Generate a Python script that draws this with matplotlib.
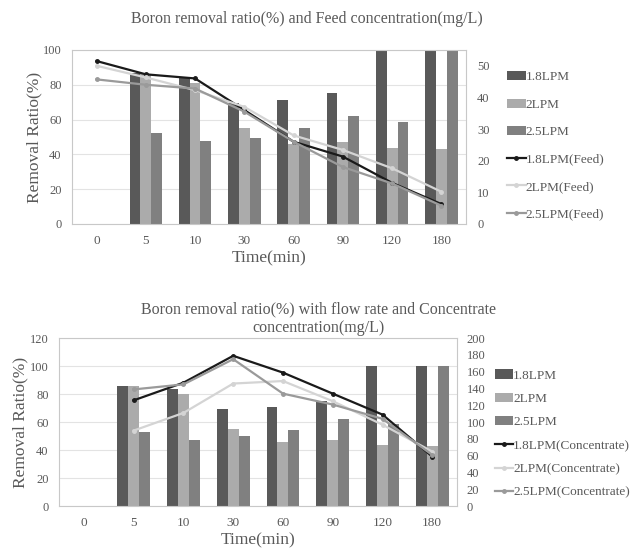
import numpy as np
import matplotlib
matplotlib.use("Agg")
import matplotlib.pyplot as plt

plt.rcParams["font.family"] = ["Liberation Serif", "DejaVu Serif"]

TIMES = ["0", "5", "10", "30", "60", "90", "120", "180"]

# removal ratio (%) - top chart
top_18 = [0, 86.5, 84, 69.5, 71, 75.5, 100, 100]
top_2 = [0, 86, 81, 55, 46, 47, 43.5, 43]
top_25 = [0, 52.5, 47.5, 49.5, 55, 62, 58.5, 100]

# feed concentration (mg/L)
feed_18 = [51.5, 47.3, 46, 36, 26, 21.3, 13, 6.3]
feed_2 = [50, 46.3, 42.3, 37, 28, 23.4, 17.6, 10.2]
feed_25 = [45.7, 44, 42.8, 35.5, 26, 18, 12.8, 5.8]

# removal ratio (%) - bottom chart
bot_18 = [0, 86, 83.5, 69.5, 71, 75, 100, 100]
bot_2 = [0, 86, 80, 55, 45.7, 47, 44, 43]
bot_25 = [0, 52.7, 47.6, 49.8, 54.6, 62.3, 58.7, 100]

# concentrate concentration (mg/L), no value at t=0
conc_18 = [126, 147, 179, 159, 134, 109, 59]
conc_2 = [90, 111, 146, 149, 125, 97, 65]
conc_25 = [139, 145, 175, 134, 121, 104, 61]

C_BAR = ["#595959", "#ababab", "#808080"]
C_LINE = ["#1a1a1a", "#d4d4d4", "#9a9a9a"]
TXT = "#595959"
GRID = "#e3e3e3"

fig = plt.figure(figsize=(6.31, 5.49), dpi=100)


def panel(rect, bars, lines, line_x, ylim_l, yt_l, ylim_r, yt_r, suffix,
          titles, leg_pos, leg_space, xlab_y, ylab_x, rpad):
    ax = fig.add_axes(rect)
    x = np.arange(len(TIMES))
    w = 0.22
    names = ["1.8LPM", "2LPM", "2.5LPM"]
    handles = []
    for i, (vals, c) in enumerate(zip(bars, C_BAR)):
        h = ax.bar(x + (i - 1) * w, vals, w, color=c, label=names[i], zorder=2)
        handles.append(h)
    ax.set_xlim(-0.5, len(TIMES) - 0.5)
    ax.set_ylim(*ylim_l)
    ax.set_yticks(yt_l)
    ax.set_xticks(x)
    ax.set_xticklabels(TIMES)
    ax.yaxis.grid(True, color=GRID, lw=0.8, zorder=0)
    ax.set_axisbelow(True)
    ax.tick_params(axis="x", length=0, labelsize=9.5, colors=TXT, pad=8)
    ax.tick_params(axis="y", length=0, labelsize=9, colors=TXT, pad=7.5)
    for s in ax.spines.values():
        s.set_color("#c8c8c8")
        s.set_linewidth(0.8)
    ax.set_ylabel("Removal Ratio(%)", fontsize=12.5, color=TXT, va="center")
    ax.yaxis.set_label_coords(ylab_x, 0.5)
    ax.set_xlabel("Time(min)", fontsize=12.5, color=TXT, va="center")
    ax.xaxis.set_label_coords(0.5, xlab_y)

    ax2 = ax.twinx()
    for i, (vals, c) in enumerate(zip(lines, C_LINE)):
        h, = ax2.plot(line_x, vals, color=c, lw=1.6, marker="o", ms=2.5,
                      label=names[i] + suffix, zorder=3)
        handles.append(h)
    ax2.set_ylim(*ylim_r)
    ax2.set_yticks(yt_r)
    ax2.tick_params(axis="y", length=0, labelsize=9, colors=TXT, pad=rpad)
    for s in ax2.spines.values():
        s.set_visible(False)

    for tx, ty, t in titles:
        fig.text(tx, ty, t, ha="center", va="center", fontsize=11.5, color=TXT)
    fig.legend(handles=handles, loc="upper left", bbox_to_anchor=leg_pos,
               frameon=False, fontsize=9.5, labelspacing=leg_space,
               handlelength=1.4, handletextpad=0.0, labelcolor=TXT)


panel([0.114, 0.592, 0.6245, 0.317],
      [top_18, top_2, top_25], [feed_18, feed_2, feed_25], np.arange(8),
      (0, 100), range(0, 101, 20), (0, 55), range(0, 51, 10), "(Feed)",
      [(0.487, 0.965, "Boron removal ratio(%) and Feed concentration(mg/L)")],
      (0.785, 0.892), 1.15, -0.195, -0.096, 8)

panel([0.0935, 0.078, 0.631, 0.306],
      [bot_18, bot_2, bot_25], [conc_18, conc_2, conc_25], np.arange(1, 8),
      (0, 120), range(0, 121, 20), (0, 200), range(0, 201, 20), "(Concentrate)",
      [(0.505, 0.437, "Boron removal ratio(%) with flow rate and Concentrate"),
       (0.505, 0.403, "concentration(mg/L)")],
      (0.765, 0.349), 0.85, -0.202, -0.098, 7)

fig.savefig("out.png", dpi=100)
